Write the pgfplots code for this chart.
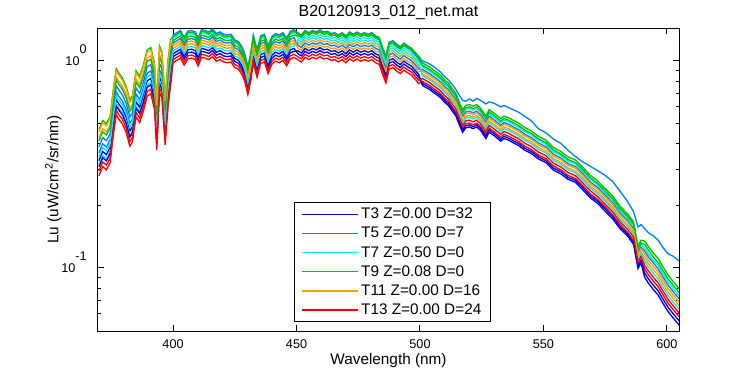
\documentclass[border=0pt]{standalone}
\usepackage{pgfplots}
\pgfplotsset{compat=1.18}
\usepackage{pgfplotstable}
\usepackage{fontspec}
\setmainfont{Liberation Sans}
\definecolor{c1}{RGB}{0,0,225}
\definecolor{c2}{RGB}{0,128,255}
\definecolor{c3}{RGB}{0,235,255}
\definecolor{c4}{RGB}{0,190,0}
\definecolor{c5}{RGB}{255,160,0}
\definecolor{c6}{RGB}{255,0,0}
\pgfplotstableread[row sep=\\]{
x s1 s2 s3 s4 s5 s6 s7 s8 s9 s10 s11 s12\\
370 .330 .360 .316 .466 .426 .279 .308 .385 .345 .411 .455 .294\\
371.5 .365 .398 .349 .516 .471 .309 .341 .426 .382 .455 .503 .325\\
373 .353 .384 .337 .498 .455 .298 .329 .412 .368 .439 .486 .314\\
374.5 .382 .416 .365 .538 .492 .322 .356 .445 .399 .475 .526 .339\\
376 .540 .588 .516 .762 .696 .456 .504 .630 .564 .672 .744 .480\\
377 .651 .709 .622 .918 .839 .549 .607 .759 .680 .810 .897 .578\\
378 .621 .676 .593 .876 .800 .524 .580 .725 .649 .773 .856 .552\\
379.5 .587 .639 .561 .828 .756 .496 .548 .685 .613 .730 .808 .522\\
381 .535 .582 .511 .754 .689 .451 .499 .624 .558 .665 .737 .475\\
382.5 .459 .500 .439 .648 .592 .388 .428 .536 .479 .571 .632 .408\\
383.5 .480 .522 .458 .677 .618 .405 .448 .560 .501 .597 .661 .426\\
385 .635 .692 .607 .897 .819 .537 .593 .741 .664 .791 .875 .565\\
386.5 .597 .650 .570 .842 .769 .504 .557 .696 .623 .743 .822 .530\\
388 .680 .740 .649 .959 .876 .574 .634 .793 .710 .846 .936 .604\\
389.5 .801 .872 .765 1.13 1.03 .676 .748 .935 .837 .997 1.10 .712\\
391 .823 .896 .786 1.16 1.06 .695 .768 .960 .859 1.02 1.13 .731\\
392.5 .690 .752 .660 .974 .890 .583 .644 .805 .721 .859 .951 .614\\
393.4 .441 .480 .421 .622 .568 .372 .412 .515 .461 .549 .608 .392\\
394.5 .833 .907 .796 1.18 1.07 .704 .778 .972 .870 1.04 1.15 .741\\
395.5 .783 .853 .748 1.10 1.01 .661 .731 .914 .818 .974 1.08 .696\\
396.8 .466 .508 .445 .658 .601 .394 .435 .544 .487 .580 .642 .414\\
398 .720 .784 .688 1.02 .928 .608 .672 .840 .752 .896 .992 .640\\
399 .900 .980 .860 1.27 1.16 .760 .840 1.05 .940 1.12 1.24 .800\\
400 1.049 1.334 1.288 1.311 1.151 .980 1.083 1.220 1.117 1.254 1.186 1.015\\
401.5 1.076 1.369 1.322 1.346 1.182 1.006 1.112 1.252 1.147 1.287 1.217 1.041\\
403 1.104 1.404 1.356 1.380 1.212 1.032 1.140 1.284 1.176 1.320 1.248 1.068\\
404.5 1.021 1.299 1.254 1.277 1.121 .955 1.055 1.188 1.088 1.221 1.154 .988\\
406 1.095 1.392 1.345 1.369 1.202 1.023 1.131 1.273 1.166 1.309 1.238 1.059\\
407.5 1.104 1.404 1.356 1.380 1.212 1.032 1.140 1.284 1.176 1.320 1.248 1.068\\
409 1.086 1.381 1.333 1.357 1.192 1.015 1.121 1.263 1.156 1.298 1.227 1.050\\
410.2 1.012 1.287 1.243 1.265 1.111 .946 1.045 1.177 1.078 1.210 1.144 .979\\
411.5 1.113 1.416 1.367 1.392 1.222 1.041 1.150 1.295 1.186 1.331 1.258 1.077\\
413 1.104 1.404 1.356 1.380 1.212 1.032 1.140 1.284 1.176 1.320 1.248 1.068\\
414.5 1.086 1.381 1.333 1.357 1.192 1.015 1.121 1.263 1.156 1.298 1.227 1.050\\
416 1.122 1.427 1.379 1.403 1.232 1.049 1.159 1.305 1.196 1.342 1.269 1.086\\
417.5 1.067 1.357 1.311 1.334 1.172 .998 1.102 1.241 1.137 1.276 1.206 1.032\\
419 1.086 1.381 1.333 1.357 1.192 1.015 1.121 1.263 1.156 1.298 1.227 1.050\\
420.5 1.058 1.346 1.300 1.323 1.162 .989 1.093 1.231 1.127 1.265 1.196 1.024\\
422 1.049 1.334 1.288 1.311 1.151 .980 1.083 1.220 1.117 1.254 1.186 1.015\\
423.5 1.058 1.346 1.300 1.323 1.162 .989 1.093 1.231 1.127 1.265 1.196 1.024\\
425 .994 1.264 1.220 1.242 1.091 .929 1.026 1.156 1.058 1.188 1.123 .961\\
426.5 .975 1.240 1.198 1.219 1.071 .912 1.007 1.134 1.039 1.166 1.102 .943\\
428 .915 1.164 1.124 1.144 1.005 .856 .945 1.065 .975 1.095 1.035 .886\\
429 .856 1.088 1.051 1.070 .939 .800 .884 .995 .911 1.023 .967 .828\\
430.3 .736 .936 .904 .920 .808 .688 .760 .856 .784 .880 .832 .712\\
431.5 .865 1.100 1.062 1.081 .949 .808 .893 1.006 .921 1.034 .978 .837\\
432.5 1.049 1.334 1.288 1.311 1.151 .980 1.083 1.220 1.117 1.254 1.186 1.015\\
434 .892 1.135 1.096 1.116 .980 .834 .922 1.038 .951 1.067 1.009 .863\\
435.5 1.040 1.322 1.277 1.300 1.141 .972 1.074 1.209 1.107 1.243 1.175 1.006\\
437 1.058 1.346 1.300 1.323 1.162 .989 1.093 1.231 1.127 1.265 1.196 1.024\\
438.5 .929 1.182 1.141 1.162 1.020 .869 .960 1.081 .990 1.111 1.050 .899\\
440 1.030 1.310 1.266 1.288 1.131 .963 1.064 1.198 1.098 1.232 1.165 .997\\
441.5 1.067 1.357 1.311 1.334 1.172 .998 1.102 1.241 1.137 1.276 1.206 1.032\\
443 1.049 1.334 1.288 1.311 1.151 .980 1.083 1.220 1.117 1.254 1.186 1.015\\
444.5 1.076 1.369 1.322 1.346 1.182 1.006 1.112 1.252 1.147 1.287 1.217 1.041\\
446 1.012 1.287 1.243 1.265 1.111 .946 1.045 1.177 1.078 1.210 1.144 .979\\
447.5 1.095 1.392 1.345 1.369 1.202 1.023 1.131 1.273 1.166 1.309 1.238 1.059\\
449 1.113 1.416 1.367 1.392 1.222 1.041 1.150 1.295 1.186 1.331 1.258 1.077\\
450.5 1.121 1.369 1.298 1.357 1.227 1.015 1.086 1.192 1.263 1.333 1.156 1.050\\
452 1.093 1.334 1.265 1.323 1.196 .989 1.058 1.162 1.231 1.300 1.127 1.024\\
453.5 1.150 1.404 1.331 1.392 1.258 1.041 1.113 1.222 1.295 1.367 1.186 1.077\\
455 1.121 1.369 1.298 1.357 1.227 1.015 1.086 1.192 1.263 1.333 1.156 1.050\\
456.5 1.150 1.404 1.331 1.392 1.258 1.041 1.113 1.222 1.295 1.367 1.186 1.077\\
458 1.131 1.380 1.309 1.369 1.238 1.023 1.095 1.202 1.273 1.345 1.166 1.059\\
459.5 1.159 1.415 1.342 1.403 1.269 1.049 1.122 1.232 1.305 1.379 1.196 1.086\\
461 1.131 1.380 1.309 1.369 1.238 1.023 1.095 1.202 1.273 1.345 1.166 1.059\\
462.5 1.140 1.392 1.320 1.380 1.248 1.032 1.104 1.212 1.284 1.356 1.176 1.068\\
464 1.112 1.357 1.287 1.346 1.217 1.006 1.076 1.182 1.252 1.322 1.147 1.041\\
465.5 1.121 1.369 1.298 1.357 1.227 1.015 1.086 1.192 1.263 1.333 1.156 1.050\\
467 1.093 1.334 1.265 1.323 1.196 .989 1.058 1.162 1.231 1.300 1.127 1.024\\
468.5 1.121 1.369 1.298 1.357 1.227 1.015 1.086 1.192 1.263 1.333 1.156 1.050\\
470 1.083 1.322 1.254 1.311 1.186 .980 1.049 1.151 1.220 1.288 1.117 1.015\\
471.5 1.131 1.380 1.309 1.369 1.238 1.023 1.095 1.202 1.273 1.345 1.166 1.059\\
473 1.102 1.346 1.276 1.334 1.206 .998 1.067 1.172 1.241 1.311 1.137 1.032\\
474.5 1.131 1.380 1.309 1.369 1.238 1.023 1.095 1.202 1.273 1.345 1.166 1.059\\
476 1.102 1.346 1.276 1.334 1.206 .998 1.067 1.172 1.241 1.311 1.137 1.032\\
477.5 1.121 1.369 1.298 1.357 1.227 1.015 1.086 1.192 1.263 1.333 1.156 1.050\\
479 1.102 1.346 1.276 1.334 1.206 .998 1.067 1.172 1.241 1.311 1.137 1.032\\
480.5 1.121 1.369 1.298 1.357 1.227 1.015 1.086 1.192 1.263 1.333 1.156 1.050\\
482 1.083 1.322 1.254 1.311 1.186 .980 1.049 1.151 1.220 1.288 1.117 1.015\\
483.5 1.064 1.299 1.232 1.288 1.165 .963 1.030 1.131 1.198 1.266 1.098 .997\\
485 .941 1.148 1.089 1.139 1.030 .851 .911 1.000 1.059 1.119 .970 .881\\
486.2 .865 1.056 1.001 1.047 .946 .783 .837 .919 .974 1.028 .892 .810\\
487.5 1.007 1.230 1.166 1.219 1.102 .912 .975 1.071 1.134 1.198 1.039 .943\\
489 1.026 1.253 1.188 1.242 1.123 .929 .994 1.091 1.156 1.220 1.058 .961\\
490.5 .988 1.206 1.144 1.196 1.082 .894 .957 1.050 1.113 1.175 1.019 .926\\
492 .960 1.172 1.111 1.162 1.050 .869 .929 1.020 1.081 1.141 .990 .899\\
493.5 .998 1.218 1.155 1.208 1.092 .903 .966 1.061 1.124 1.187 1.029 .935\\
495 .969 1.183 1.122 1.173 1.061 .877 .938 1.030 1.091 1.153 1.000 .908\\
496.5 .945 1.154 1.095 1.144 1.035 .856 .915 1.005 1.065 1.124 .975 .886\\
498 .903 1.102 1.045 1.093 .988 .817 .874 .960 1.017 1.074 .931 .846\\
499.5 .860 1.050 .996 1.041 .941 .778 .833 .914 .968 1.023 .887 .805\\
501 .762 1.00 .935 .979 .866 .797 .779 .909 .849 .953 .892 .823\\
502.5 .744 .985 .914 .956 .846 .778 .761 .888 .829 .931 .871 .804\\
504 .727 .965 .892 .933 .826 .760 .743 .867 .809 .909 .851 .785\\
505.5 .704 .94 .864 .904 .80 .736 .72 .84 .784 .88 .824 .76\\
507 .684 .91 .839 .878 .777 .715 .699 .816 .761 .855 .800 .738\\
508.5 .662 .88 .812 .850 .752 .692 .677 .790 .737 .827 .775 .714\\
510 .631 .84 .774 .810 .717 .660 .645 .753 .703 .789 .739 .681\\
511.5 .610 .81 .748 .783 .693 .638 .624 .728 .679 .762 .714 .658\\
513 .574 .77 .704 .737 .652 .600 .587 .685 .639 .717 .672 .619\\
514.5 .544 .73 .667 .698 .618 .569 .556 .649 .606 .680 .637 .587\\
516 .490 .68 .602 .629 .557 .512 .501 .585 .546 .613 .574 .529\\
517.3 .452 .645 .555 .581 .514 .473 .463 .540 .504 .565 .529 .488\\
518.5 .475 .64 .583 .610 .54 .497 .486 .567 .529 .594 .556 .513\\
520 .480 .655 .589 .616 .545 .501 .491 .572 .534 .600 .561 .518\\
521.5 .471 .64 .578 .605 .535 .492 .482 .562 .524 .589 .551 .508\\
523 .480 .66 .589 .616 .545 .501 .491 .572 .534 .600 .561 .518\\
524.5 .462 .645 .567 .593 .525 .483 .473 .551 .515 .578 .541 .499\\
526.7 .422 .62 .518 .542 .48 .442 .432 .504 .470 .528 .494 .456\\
528 .453 .635 .556 .582 .515 .474 .464 .541 .505 .567 .530 .489\\
530 .436 .625 .535 .559 .495 .455 .446 .520 .485 .545 .510 .470\\
532.7 .410 .60 .503 .527 .466 .429 .419 .489 .457 .513 .480 .443\\
534 .422 .61 .518 .542 .48 .442 .432 .504 .470 .528 .494 .456\\
536 .414 .595 .508 .531 .47 .432 .423 .494 .461 .517 .484 .447\\
538 .401 .58 .492 .515 .456 .420 .410 .479 .447 .502 .470 .433\\
540 .390 .565 .478 .501 .443 .408 .399 .465 .434 .487 .456 .421\\
542.5 .370 .54 .455 .476 .421 .387 .379 .442 .413 .463 .434 .400\\
545 .358 .515 .440 .460 .407 .374 .366 .427 .399 .448 .419 .387\\
548 .336 .47 .413 .432 .382 .351 .344 .401 .374 .420 .393 .363\\
551 .323 .45 .396 .415 .367 .338 .330 .385 .360 .404 .378 .349\\
554 .297 .42 .365 .382 .338 .311 .304 .355 .331 .372 .348 .321\\
557 .285 .40 .350 .366 .324 .298 .292 .340 .318 .356 .334 .308\\
560 .268 .37 .328 .344 .304 .280 .274 .319 .298 .334 .313 .289\\
563 .259 .345 .318 .332 .294 .270 .265 .309 .288 .323 .303 .279\\
566 .238 .325 .293 .306 .271 .249 .244 .285 .266 .298 .279 .257\\
569 .218 .31 .268 .280 .248 .228 .223 .260 .243 .273 .255 .236\\
572 .205 .295 .252 .263 .233 .214 .210 .245 .228 .256 .240 .221\\
575 .188 .28 .231 .242 .214 .197 .193 .225 .210 .235 .220 .203\\
578 .173 .262 .213 .223 .197 .181 .177 .207 .193 .217 .203 .187\\
581 .155 .235 .190 .199 .176 .162 .158 .185 .172 .194 .181 .167\\
584 .143 .21 .175 .183 .162 .149 .146 .170 .159 .178 .167 .154\\
586.5 .130 .187 .160 .167 .148 .136 .133 .155 .145 .163 .152 .141\\
588.3 .0994 .158 .122 .128 .113 .104 .102 .119 .111 .124 .116 .107\\
589.5 .106 .162 .130 .136 .12 .110 .108 .126 .118 .132 .124 .114\\
591 .0902 .155 .125 .135 .112 .099 .0946 .121 .108 .130 .117 .103\\
592.5 .0845 .148 .117 .127 .105 .0927 .0886 .113 .101 .122 .109 .0968\\
594.5 .0787 .143 .109 .118 .0979 .0864 .0826 .106 .0941 .113 .102 .0902\\
596.5 .0738 .136 .103 .111 .0918 .081 .0774 .099 .0882 .106 .0954 .0846\\
598.5 .0672 .125 .0935 .101 .0836 .0738 .0705 .0902 .0804 .0968 .0869 .0771\\
600.5 .0615 .117 .0855 .0923 .0765 .0675 .0645 .0825 .0735 .0885 .0795 .0705\\
602.5 .0574 .114 .0798 .0861 .0714 .063 .0602 .077 .0686 .0826 .0742 .0658\\
605 .0529 .108 .0735 .0793 .0658 .0581 .0555 .0710 .0632 .0761 .0684 .0606\\
}\data
\begin{document}
\begin{tikzpicture}
\path[use as bounding box] (-73.5pt,-33pt) rectangle (489pt,248.25pt);
\begin{axis}[
  at={(0,0)}, anchor=south west,
  scale only axis, width=435.75pt, height=227.25pt,
  xmin=369.6, xmax=604.9,
  ymode=log, ymin=0.0496, ymax=1.443,
  xtick={400,450,500,550,600},
  xticklabels={400,450,500,550,600},
  minor xtick={},
  ytick={0.1,1},
  yticklabels={{10\raisebox{8.5pt}[0pt][0pt]{-1}},{10\raisebox{8.5pt}[0pt][0pt]{0}}},
  minor ytick={0.06,0.07,0.08,0.09,0.2,0.3,0.4,0.5,0.6,0.7,0.8,0.9},
  tick align=inside,
  major tick length=4.5pt, minor tick length=2.25pt,
  every tick/.style={black, line width=0.75pt},
  axis line style={black, line width=0.75pt},
  /pgf/number format/assume math mode=true,
  ticklabel style={font=\fontsize{9.5}{11}\selectfont},
  xticklabel style={yshift=-3pt},
  yticklabel style={xshift=-5pt},
  title={B20120913\_012\_net.mat},
  title style={at={(axis description cs:0.5,1.012)}, anchor=base, font=\fontsize{12}{14}\selectfont},
  xlabel={Wavelength (nm)},
  xlabel style={at={(axis description cs:0.5,-0.109)}, anchor=base, font=\fontsize{11.5}{13}\selectfont},
  ylabel={Lu (uW/cm\textsuperscript{2}/sr/nm)},
  ylabel style={at={(axis description cs:-0.068,0.5)}, anchor=base, font=\fontsize{11.5}{13}\selectfont},
  legend style={at={(axis description cs:0.3373,0.4257)}, anchor=north west,
    draw=black, line width=0.75pt, fill=white,
    inner xsep=5pt, inner ysep=2.2pt, row sep=0.8pt,
    font=\fontsize{11.5}{13}\selectfont,
    cells={anchor=west}, nodes={inner sep=2pt}},
  legend image code/.code={\draw[#1, line width=1pt] (0pt,0pt) -- (42pt,0pt);},
]
\addplot[c1, line width=1pt] table[x=x,y=s1]{\data};
\addlegendentry{T3 Z=0.00 D=32}
\addplot[c2, line width=1pt] table[x=x,y=s2]{\data};
\addlegendentry{T5 Z=0.00 D=7}
\addplot[c3, line width=1pt] table[x=x,y=s3]{\data};
\addlegendentry{T7 Z=0.50 D=0}
\addplot[c4, line width=1pt] table[x=x,y=s4]{\data};
\addlegendentry{T9 Z=0.08 D=0}
\addplot[c5, line width=1pt] table[x=x,y=s5]{\data};
\addlegendentry{T11 Z=0.00 D=16}
\addplot[c6, line width=1pt] table[x=x,y=s6]{\data};
\addlegendentry{T13 Z=0.00 D=24}
\addplot[c1, line width=1pt, forget plot] table[x=x,y=s7]{\data};
\addplot[c2, line width=1pt, forget plot] table[x=x,y=s8]{\data};
\addplot[c3, line width=1pt, forget plot] table[x=x,y=s9]{\data};
\addplot[c4, line width=1pt, forget plot] table[x=x,y=s10]{\data};
\addplot[c5, line width=1pt, forget plot] table[x=x,y=s11]{\data};
\addplot[c6, line width=1pt, forget plot] table[x=x,y=s12]{\data};
\end{axis}
\end{tikzpicture}
\end{document}
